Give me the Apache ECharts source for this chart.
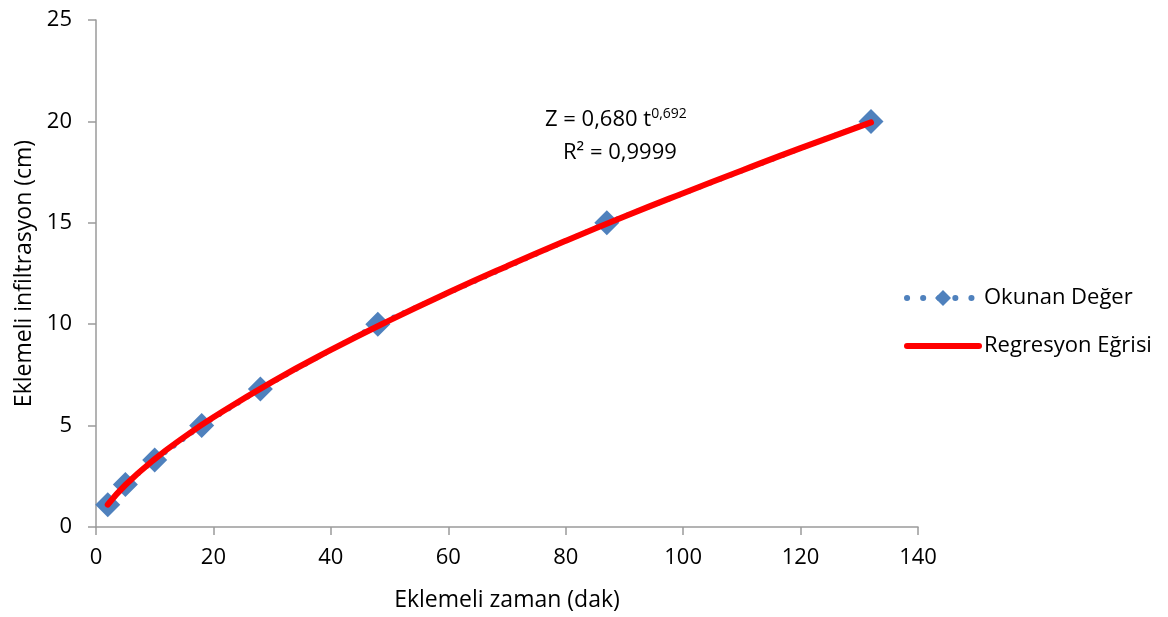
<!DOCTYPE html>
<html><head><meta charset="utf-8">
<script src="https://cdn.jsdelivr.net/npm/echarts@6/dist/echarts.min.js"></script>
<style>html,body{margin:0;padding:0;background:#fff}#c{width:1168px;height:617px}</style>
</head><body><div id="c"></div>
<script>
const obsT = [2, 5, 10, 18, 28, 48, 87, 132];
const obsZ = [1.1, 2.1, 3.3, 5.0, 6.8, 10.0, 15.0, 20.0];
const fitT = [2, 5, 10, 15, 20, 30, 40, 50, 60, 70, 80, 90, 100, 110, 120, 132];
const fitZ = [1.10, 2.07, 3.35, 4.43, 5.41, 7.16, 8.73, 10.19, 11.56, 12.86, 14.11, 15.31, 16.46, 17.58, 18.68, 19.95];
const xTicks = [0, 20, 40, 60, 80, 100, 120, 140];
const yTicks = [0, 5, 10, 15, 20, 25];
const seriesNames = ['Okunan Değer', 'Regresyon Eğrisi'];

const font = '"Open Sans", "Liberation Sans", sans-serif';
const chart = echarts.init(document.getElementById('c'));
chart.setOption({
  animation: false,
  textStyle: {fontFamily: font},
  grid: {left: 96, right: 250, top: 20, bottom: 90},
  xAxis: {
    type: 'value', min: xTicks[0], max: xTicks[xTicks.length-1], interval: 20,
    name: 'Eklemeli zaman (dak)', nameLocation: 'middle', nameGap: 62,
    nameTextStyle: {fontSize: 23, color: '#000', fontFamily: font},
    axisLine: {lineStyle: {color: '#9a9a9a', width: 1.5}},
    axisTick: {show: true, length: 8, lineStyle: {color: '#9a9a9a', width: 1.5}},
    axisLabel: {fontSize: 22, color: '#000', margin: 20, fontFamily: font},
    splitLine: {show: false}
  },
  yAxis: {
    type: 'value', min: yTicks[0], max: yTicks[yTicks.length-1], interval: 5,
    name: 'Eklemeli infiltrasyon (cm)', nameLocation: 'middle', nameGap: 60,
    nameTextStyle: {fontSize: 23, color: '#000', fontFamily: font},
    axisLine: {show: true, lineStyle: {color: '#9a9a9a', width: 1.5}},
    axisTick: {show: true, length: 8, lineStyle: {color: '#9a9a9a', width: 1.5}},
    axisLabel: {fontSize: 22, color: '#000', margin: 24, fontFamily: font},
    splitLine: {show: false}
  },
  legend: {
    orient: 'vertical', left: 899, top: 282, itemGap: 26,
    itemWidth: 72, itemHeight: 20,
    textStyle: {fontSize: 22, color: '#000', fontFamily: font},
    data: [
      {name: seriesNames[0], lineStyle: {width: 6, type: [0.1, 16], cap: 'round', color: '#4F81BD'}},
      {name: seriesNames[1], itemStyle: {opacity: 0}, lineStyle: {width: 6, cap: 'round', color: '#FF0000'}}
    ]
  },
  graphic: [{
    type: 'text', left: 545, top: 107,
    style: {
      text: '{a|Z = 0,680 t}{s|0,692}',
      rich: {
        a: {fontSize: 22, fontFamily: font, fill: '#000', color: '#000'},
        s: {fontSize: 14, fontFamily: font, fill: '#000', color: '#000', verticalAlign: 'top', padding: [0,0,12,0]}
      }
    }
  }, {
    type: 'text', left: 563, top: 142,
    style: {text: 'R² = 0,9999', fontSize: 22, fontFamily: font, fill: '#000'}
  }],
  series: [{
    name: seriesNames[0], type: 'line',
    data: obsT.map((t, i) => [t, obsZ[i]]),
    symbol: 'diamond', symbolSize: 25,
    itemStyle: {color: '#4F81BD'},
    lineStyle: {color: '#4F81BD', width: 5, type: [0.1, 11], cap: 'round'},
    z: 2
  }, {
    name: seriesNames[1], type: 'line',
    data: fitT.map((t, i) => [t, fitZ[i]]),
    smooth: true, symbol: 'none',
    itemStyle: {color: '#FF0000'},
    lineStyle: {color: '#FF0000', width: 6, cap: 'round'},
    z: 3
  }]
});
</script></body></html>
